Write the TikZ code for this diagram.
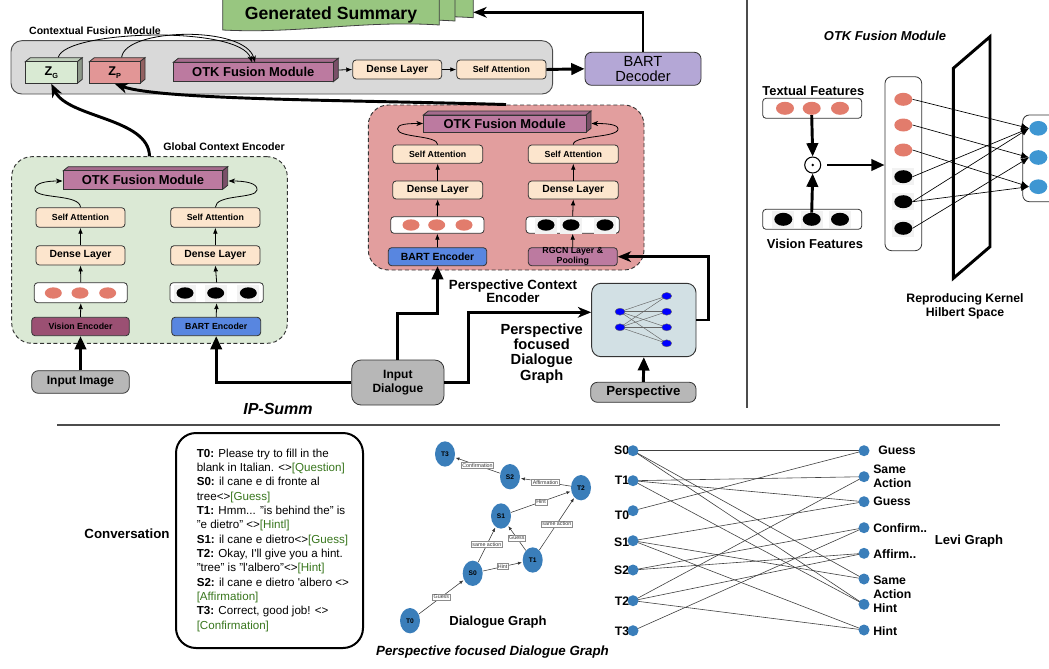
\documentclass[tikz,border=0pt]{standalone}
\usepackage{fontspec}
\setmainfont{Liberation Sans}
\usetikzlibrary{arrows.meta,shapes.geometric,calc}
\definecolor{cfmgray}{RGB}{217,217,217}
\definecolor{zgfill}{RGB}{217,234,211}
\definecolor{zpfill}{RGB}{226,150,150}
\definecolor{pcefill}{RGB}{226,158,158}
\definecolor{gcefill}{RGB}{219,233,213}
\definecolor{peach}{RGB}{252,229,205}
\definecolor{otkfill}{RGB}{188,122,160}
\definecolor{visfill}{RGB}{155,80,115}
\definecolor{bartblue}{RGB}{88,134,224}
\definecolor{decfill}{RGB}{180,167,214}
\definecolor{boxgray}{RGB}{183,183,183}
\definecolor{gsgreen}{RGB}{152,198,128}
\definecolor{gbfill}{RGB}{210,224,228}
\definecolor{salmon}{RGB}{226,124,108}
\definecolor{dgblue}{RGB}{58,126,186}
\definecolor{otkblue}{RGB}{62,150,210}
\definecolor{tagreen}{RGB}{56,118,29}
\definecolor{patch}{RGB}{242,242,242}
\newcommand\fsz[2]{\fontsize{#1}{#2}\selectfont}
\newcommand\tagc[1]{\textcolor{tagreen}{#1}}
\newcommand\bx[7]{\node[#2, minimum width={(#5-#3)*0.75pt}, minimum height={(#6-#4)*0.75pt}] (#1) at ({(#3+#5)/2},{(#4+#6)/2}) {#7};}
\newcommand\tdbox[7]{%
 \filldraw[draw=black!80, line width=0.6pt, fill=#6!88!black] (#2,#3) -- ({#2+5},{#3-4}) -- ({#4+5},{#3-4}) -- (#4,#3) -- cycle;
 \filldraw[draw=black!80, line width=0.6pt, fill=#6!65!black] (#4,#3) -- ({#4+5},{#3-4}) -- ({#4+5},{#5-4}) -- (#4,#5) -- cycle;
 \node[draw=black!80, line width=0.6pt, fill=#6, inner sep=0pt, minimum width={(#4-#2)*0.75pt}, minimum height={(#5-#3)*0.75pt}] (#1) at ({(#2+#4)/2},{(#3+#5)/2}) {#7};}
\newcommand\sumpage[4]{%
 \filldraw[fill=gsgreen, draw=black!75, line width=0.6pt] (#1,-5) -- (#1,#3) .. controls ({#1+(#2-#1)*0.35},{#3+4}) and ({#1+(#2-#1)*0.65},{#4-5}) .. (#2,#4) -- (#2,-5) -- cycle;}
\newcommand\blkdot[4]{% name, x, y, style
 \fill[patch] ({#2-11},{#3-8.5}) rectangle ({#2+11},{#3+8.5});
 \node[#4] (#1) at (#2,#3) {};}
\tikzset{
 box/.style={draw=black!80, line width=0.6pt, rounded corners=2.5pt, inner sep=0pt, align=center},
 peachbox/.style={box, fill=peach, font=\bfseries\fsz{7.8}{9}},
 attbox/.style={box, fill=peach, font=\bfseries\fsz{6.6}{8}},
 featbox/.style={box, fill=white},
 graybox/.style={box, fill=boxgray, rounded corners=5pt},
 sarr/.style={line width=0.6pt, -{Latex[length=4.5pt,width=3.5pt]}},
 carr/.style={line width=0.6pt, -{Stealth[length=5pt,width=3.8pt,inset=1.5pt]}},
 tarr/.style={line width=2.2pt, -{Triangle[length=10pt,width=8.5pt]}},
 barr/.style={line width=2.2pt, -{Stealth[length=10pt,width=8pt,inset=3pt]}},
 salm/.style={ellipse, fill=salmon, inner sep=0pt, minimum width=12.75pt, minimum height=8.5pt},
 blk/.style={ellipse, fill=black, inner sep=0pt, minimum width=12.75pt, minimum height=8.5pt},
 bsalm/.style={ellipse, fill=salmon, inner sep=0pt, minimum width=13.5pt, minimum height=9.75pt},
 bblk/.style={ellipse, fill=black, inner sep=0pt, minimum width=13.5pt, minimum height=9.75pt},
 oblue/.style={ellipse, fill=otkblue, inner sep=0pt, minimum width=13.5pt, minimum height=11pt},
 gnode/.style={ellipse, fill=blue, draw=black!60, line width=0.3pt, inner sep=0pt, minimum width=7.5pt, minimum height=5.25pt},
 dg/.style={ellipse, fill=dgblue, inner sep=0pt, minimum width=15pt, minimum height=19pt, font=\bfseries\fsz{5}{6}},
 dgarr/.style={line width=0.4pt, black!80, -{Latex[length=3pt,width=2.4pt]}, shorten >=0.5pt},
 elab/.style={draw=black!45, fill=white, font=\fsz{4}{4.5}, inner sep=0.8pt},
 lv/.style={circle, fill=dgblue, inner sep=0pt, minimum size=8.25pt},
 lvlab/.style={font=\bfseries\fsz{9.2}{10.5}, align=left, inner sep=0pt},
 lvedge/.style={line width=0.45pt, black!75},
 title/.style={font=\bfseries\fsz{8}{9.5}, align=center},
 dashedbox/.style={line width=0.7pt, draw=black!80, dash pattern=on 3pt off 2pt, rounded corners=15pt, inner sep=0pt}
}
\begin{document}
\begin{tikzpicture}[x=0.75pt,y=-0.75pt]
\useasboundingbox (0,0) rectangle (1049,668);
% separators
\draw[line width=0.8pt, black!70] (57,425) -- (1000,425);
\draw[line width=0.8pt, black!70] (747,0) -- (747,408);

% Generated Summary
\sumpage{258}{473.3}{22}{17.7}
\sumpage{240}{455}{26}{21}
\sumpage{222.7}{439.3}{30}{25}
\node[font=\bfseries\fsz{13.2}{15}] (gs) at (331,15) {Generated Summary};
\coordinate (gsR) at (473.3,12.3);

% Contextual Fusion Module
\bx{cfm}{draw=black!70, fill=cfmgray, line width=0.7pt, rounded corners=8pt, inner sep=0pt}{11}{40.7}{552.7}{94}{}
\node[title, font=\bfseries\fsz{7.9}{9}] (cfmlab) at (95,31) {Contextual Fusion Module};
\tdbox{zg}{25.3}{61.7}{77.3}{83.3}{zgfill}{\bfseries\fsz{9.5}{10}Z\raisebox{-2.5pt}{\fsz{5.5}{6}G}}
\tdbox{zp}{89.3}{61.7}{140}{83.3}{zpfill}{\bfseries\fsz{9.5}{10}Z\raisebox{-2.5pt}{\fsz{5.5}{6}P}}
\tdbox{otk1}{173.3}{62.3}{333.3}{81.7}{otkfill}{\bfseries\fsz{9.7}{11}OTK Fusion Module}
\bx{dl1}{peachbox}{352.7}{60}{441.7}{79}{Dense Layer}
\bx{sa1}{attbox}{456.7}{60}{546}{79}{Self Attention}
\bx{bd}{box, fill=decfill, rounded corners=5pt, font=\fsz{11}{11.5}}{585}{52.3}{701}{85.3}{BART\\Decoder}
\draw[sarr] ($(otk1.east)+(5,-2)$) -- (dl1.west);
\draw[sarr] (dl1.east) -- (sa1.west);
\draw[tarr] (sa1.east) -- (bd.west);
\draw[barr] (bd.north) |- (gsR);
\draw[carr] ($(zg.north)+(7,-4)$) .. controls (65,30) and (240,25) .. (252,62.3);
\draw[carr] ($(zp.north)+(7,-4)$) .. controls (125,28) and (245,25) .. (255,62.3);

% Global Context Encoder
\bx{gce}{dashedbox, fill=gcefill}{11.7}{156.7}{287.3}{343.3}{}
\node[title] (gcelab) at (224,147) {Global Context Encoder};
\tdbox{otk2}{63.3}{170.7}{222.7}{189.3}{otkfill}{\bfseries\fsz{9.7}{11}OTK Fusion Module}
\bx{sa2L}{attbox}{36}{207.7}{125}{227.3}{Self Attention}
\bx{dl2L}{peachbox}{36}{245.7}{125}{265}{Dense Layer}
\bx{fe2L}{featbox}{34.3}{282.7}{127.3}{302.7}{}
\node[salm] at (53.3,293) {};
\node[salm] at (80,293) {};
\node[salm] at (107.7,293) {};
\bx{ve}{box, fill=visfill, font=\bfseries\fsz{6.6}{8}}{31.7}{317.3}{129.3}{335.7}{Vision Encoder}
\bx{sa2R}{attbox}{170.7}{207.7}{260}{227.3}{Self Attention}
\bx{dl2R}{peachbox}{170.7}{245.7}{260}{265}{Dense Layer}
\bx{fe2R}{featbox}{170}{282.7}{263.3}{302.7}{}
\blkdot{b21}{185}{293}{blk}
\blkdot{b22}{215.7}{293}{blk}
\blkdot{b23}{248.3}{293}{blk}
\bx{be2}{box, fill=bartblue, font=\bfseries\fsz{6.6}{8}}{171.7}{317.3}{260.7}{335.7}{BART Encoder}
\foreach \c in {L,R}{
 \draw[sarr] (fe2\c.north) -- (dl2\c.south);
 \draw[sarr] (dl2\c.north) -- (sa2\c.south);
}
\draw[sarr] (ve.north) -- (fe2L.south);
\draw[sarr] (be2.north) -- (fe2R.south);
\draw[carr] (sa2L.north) .. controls (80,194) and (37,199) .. (35,190) .. controls (34,183) and (46,181) .. (62.5,181);
\draw[carr] (sa2R.north) .. controls (215.5,194) and (256,199) .. (257,190) .. controls (258,183) and (245,181) .. (228.5,181);
\bx{ii}{graybox, font=\bfseries\fsz{9}{10}}{31.7}{370.7}{129.3}{393.3}{Input Image}
\draw[tarr] (ii.north) -- (ve.south);

% Perspective Context Encoder
\bx{pce}{dashedbox, fill=pcefill}{368.3}{105}{644}{270}{}
\node[title, font=\bfseries\fsz{10}{10}] (pcelab) at (513,291.5) {Perspective Context\\Encoder};
\tdbox{otk3}{423.3}{115}{586}{132.3}{otkfill}{\bfseries\fsz{9.7}{11}OTK Fusion Module}
\bx{sa3L}{attbox}{392.7}{145}{482.7}{163.3}{Self Attention}
\bx{dl3L}{peachbox}{392.7}{181}{482.7}{199}{Dense Layer}
\bx{fe3L}{featbox}{390.7}{216.7}{484}{233.3}{}
\node[salm] at (411,225) {};
\node[salm] at (436.7,225) {};
\node[salm] at (464,225) {};
\bx{be3}{box, fill=bartblue, font=\bfseries\fsz{7.8}{9}}{388.3}{247.7}{486.7}{265.7}{BART Encoder}
\bx{sa3R}{attbox}{528.3}{145}{618.3}{163.3}{Self Attention}
\bx{dl3R}{peachbox}{528.3}{181}{618.3}{199}{Dense Layer}
\bx{fe3R}{featbox}{526}{216.7}{619.3}{233.3}{}
\blkdot{b31}{546}{225}{blk}
\blkdot{b32}{571}{225}{blk}
\blkdot{b33}{605}{225}{blk}
\bx{rg}{box, fill=otkfill, font=\bfseries\fsz{6.6}{7.5}}{528.3}{247.7}{617.3}{265.7}{RGCN Layer \&\\Pooling}
\foreach \c in {L,R}{
 \draw[sarr] (fe3\c.north) -- (dl3\c.south);
 \draw[sarr] (dl3\c.north) -- (sa3\c.south);
}
\draw[sarr] (be3.north) -- (fe3L.south);
\draw[sarr] (rg.north) -- (fe3R.south);
\draw[carr] (sa3L.north) .. controls (437.5,135) and (398,138) .. (397.5,129) .. controls (397,124) and (408,123.5) .. (423,123.5);
\draw[carr] (sa3R.north) .. controls (573.3,135) and (618,138) .. (618,129) .. controls (618,124) and (605,123.5) .. (591.5,123.5);

% thick connectors to the fusion module
\draw[line width=2.2pt, -{Stealth[length=10pt,width=8pt,inset=3pt]}] (gce.north) .. controls (149,118) and (68,118) .. (zg.south);
\draw[line width=2.2pt, -{Stealth[length=10pt,width=8pt,inset=3pt]}] (pce.north) .. controls (350,100) and (160,100) .. (zp.south);

% Input dialogue and graph
\bx{id}{graybox, rounded corners=7pt, font=\bfseries\fsz{9}{10.2}}{351.7}{360}{444}{405}{Input\\Dialogue}
\draw[tarr] (id.west) -| (be2.south);
\draw[tarr] (id.north) -- (id.north |- 0,313.3) -| (be3.south);
\bx{gb}{draw=black!80, line width=0.7pt, fill=gbfill, rounded corners=7pt, inner sep=0pt}{591.7}{283.3}{696}{356.7}{}
\coordinate (cl1) at (620,311.7);
\coordinate (cl2) at (620,327.3);
\coordinate (cr1) at (666.7,296);
\coordinate (cr2) at (666.7,311.7);
\coordinate (cr3) at (666.7,327.3);
\coordinate (cr4) at (666.7,343.3);
\foreach \a in {l1,l2}{\foreach \b in {r1,r2,r3,r4}{\draw[line width=0.35pt, black!60] (c\a) -- (c\b);}}
\foreach \n in {l1,l2,r1,r2,r3,r4}{\node[gnode] (g\n) at (c\n) {};}
\draw[barr] (id.east) -- (468.3,382.5) -- (468.3,312.3) -- (gb.west |- 0,312.3);
\node[font=\bfseries\fsz{11}{11.6}, align=center] (pfdg) at (541.7,353.4) {Perspective\\focused\\Dialogue\\Graph};
\bx{pb}{graybox, font=\bfseries\fsz{9.9}{11}}{590.7}{382.3}{696}{402.3}{Perspective}
\draw[tarr] (pb.north) -- (gb.south);
\draw[barr] (gb.east) -| ($(rg.east)+(91,0)$) -- (rg.east);

\node[font=\bfseries\itshape\fsz{12}{14}] (ips) at (278,409) {IP-Summ};

% OTK fusion module panel
\node[font=\bfseries\itshape\fsz{9.7}{11}] (otkt) at (885,36) {OTK Fusion Module};
\node[font=\bfseries\fsz{9.7}{11}] (tflab) at (813.3,90.7) {Textual Features};
\bx{tf}{featbox}{762.7}{98.3}{861.7}{118.3}{}
\node[bsalm] (tf1) at (785,108.3) {};
\node[bsalm] (tf2) at (811.7,108.3) {};
\node[bsalm] (tf3) at (840,108.3) {};
\node[circle, draw, line width=0.8pt, inner sep=0pt, minimum size=12pt] (od) at (812.7,165) {};
\fill (od.center) circle (1.4);
\bx{vf}{featbox}{762.7}{209.3}{861.7}{229.3}{}
\blkdot{vf1}{783.3}{219.3}{bblk}
\blkdot{vf2}{811.7}{219.3}{bblk}
\blkdot{vf3}{840}{219.3}{bblk}
\node[font=\bfseries\fsz{9.7}{11}] (vflab) at (815,244) {Vision Features};
\draw[tarr] (tf2.south) -- (od.north);
\draw[tarr] (vf2.north) -- (od.south);
\bx{tb}{featbox, rounded corners=5pt}{885}{76.7}{921.7}{250.7}{}
\draw[tarr] ($(od.east)+(6,0)$) -- (tb.west |- od.east);
\node[bsalm] (s1) at (903.3,99.3) {};
\node[bsalm] (s2) at (903.3,125) {};
\node[bsalm] (s3) at (903.3,150) {};
\blkdot{k1}{903.3}{176.7}{bblk}
\blkdot{k2}{903.3}{201.7}{bblk}
\blkdot{k3}{903.3}{228.3}{bblk}
\draw[line width=2.2pt] (953.3,68.3) -- (990,36.7) -- (990,246.7) -- (953.3,278.3) -- cycle;
\node[font=\bfseries\fsz{9.2}{10.5}, align=center] (rkhs) at (965,306.3) {Reproducing Kernel\\Hilbert Space};
\bx{rb}{featbox, rounded corners=5pt}{1022.7}{115}{1070}{201.7}{}
\node[oblue] (o1) at (1038.3,128.3) {};
\node[oblue] (o2) at (1038.3,157.5) {};
\node[oblue] (o3) at (1038.3,186.7) {};
\foreach \a/\b in {s1/o1,s2/o2,s3/o3,k1/o1,k2/o1,k2/o3,k3/o2}{
 \draw[line width=0.5pt, -{Latex[length=6pt,width=5pt]}] (\a.east) -- (\b.west);
}

% Conversation
\node[font=\bfseries\fsz{10}{11}] (conv) at (127,534) {Conversation};
\bx{cbox}{draw, line width=1.5pt, rounded corners=15pt, inner sep=0pt}{176}{433}{363}{648}{}
\node[anchor=north west, align=left, inner sep=0pt, font=\fsz{8.7}{10.75}] (ctext) at (196.5,448.5) {%
\textbf{T0:} Please try to fill in the\\
blank in Italian. <>\tagc{[Question]}\\
\textbf{S0:} il cane e di fronte al\\
tree<>\tagc{[Guess]}\\
\textbf{T1:} Hmm... "is behind the" is\\
"e dietro" <>\tagc{[Hintl]}\\
\textbf{S1:} il cane e dietro<>\tagc{[Guess]}\\
\textbf{T2:} Okay, I\textquotesingle ll give you a hint.\\
"tree" is "l\textquotesingle albero"<>\tagc{[Hint]}\\
\textbf{S2:} il cane e dietro \textquotesingle albero <>\\
\tagc{[Affirmation]}\\
\textbf{T3:} Correct, good job! <>\\
\tagc{[Confirmation]}};

% Dialogue graph
\node[dg] (dT3) at (445,454) {T3};
\node[dg] (dS2) at (510,476.7) {S2};
\node[dg] (dT2) at (581,487.7) {T2};
\node[dg] (dS1) at (501,516) {S1};
\node[dg] (dT1) at (532.7,560) {T1};
\node[dg] (dS0) at (472.7,573.3) {S0};
\node[dg] (dT0) at (410,620.7) {T0};
\draw[dgarr] (dT0) -- node[elab] {Guess} (dS0);
\draw[dgarr] (dS0) -- node[elab] {same action} (dS1);
\draw[dgarr] (dS0) -- node[elab] {Hint} (dT1);
\draw[dgarr] (dT1) -- node[elab] {Guess} (dS1);
\draw[dgarr] (dT1) -- node[elab] {same action} (dT2);
\draw[dgarr] (dS1) -- node[elab] {Hint} (dT2);
\draw[dgarr] (dT2) -- node[elab] {Affirmation} (dS2);
\draw[dgarr] (dS2) -- node[elab] {Confirmation} (dT3);
\node[font=\bfseries\fsz{9.8}{11}] (dglab) at (498,621.7) {Dialogue Graph};
\node[font=\bfseries\itshape\fsz{10}{11}] (pfdglab) at (492.5,652) {Perspective focused Dialogue Graph};

% Levi graph
\node[lvlab, anchor=east] at (629.5,450.7) {S0};
\node[lvlab, anchor=east] at (629.5,480.7) {T1};
\node[lvlab, anchor=east] at (629.5,515) {T0};
\node[lvlab, anchor=east] at (629.5,542.5) {S1};
\node[lvlab, anchor=east] at (629.5,570) {S2};
\node[lvlab, anchor=east] at (629.5,601) {T2};
\node[lvlab, anchor=east] at (629.5,631.5) {T3};
\node[lvlab, anchor=west] at (878,450.7) {Guess};
\node[lvlab, anchor=west] at (873,476.3) {Same\\Action};
\node[lvlab, anchor=west] at (873,501.7) {Guess};
\node[lvlab, anchor=west] at (873,527.7) {Confirm..};
\node[lvlab, anchor=west] at (873,553.7) {Affirm..};
\node[lvlab, anchor=west] at (873,593.8) {Same\\Action\\Hint};
\node[lvlab, anchor=west] at (873,631.5) {Hint};
\node[font=\bfseries\fsz{9.8}{11}] (levi) at (969,541) {Levi Graph};
\coordinate (cS0) at (633,450.7);
\coordinate (cT1) at (633,480.7);
\coordinate (cT0) at (633,510.7);
\coordinate (cS1) at (633,540.7);
\coordinate (cS2) at (633,570);
\coordinate (cT2) at (633,600.7);
\coordinate (cT3) at (633,630.7);
\coordinate (cG1) at (864,450.7);
\coordinate (cA1) at (864,476.7);
\coordinate (cG2) at (864,501.7);
\coordinate (cC) at (864,527.7);
\coordinate (cAf) at (864,553.3);
\coordinate (cA2) at (864,579);
\coordinate (cH1) at (864,604.3);
\coordinate (cH2) at (864,630);
\foreach \a/\b in {S0/G1,T0/G1,T1/A1,T2/A1,T1/G2,S1/G2,S2/C,T3/C,T2/Af,S2/Af,S0/A2,S1/A2,S0/H1,T1/H1,S1/H2,T2/H2}{
 \draw[lvedge] (c\a) -- (c\b);
}
\foreach \n in {S0,T1,T0,S1,S2,T2,T3,G1,A1,G2,C,Af,A2,H1,H2}{
 \node[lv] (l\n) at (c\n) {};
}
\end{tikzpicture}
\end{document}
